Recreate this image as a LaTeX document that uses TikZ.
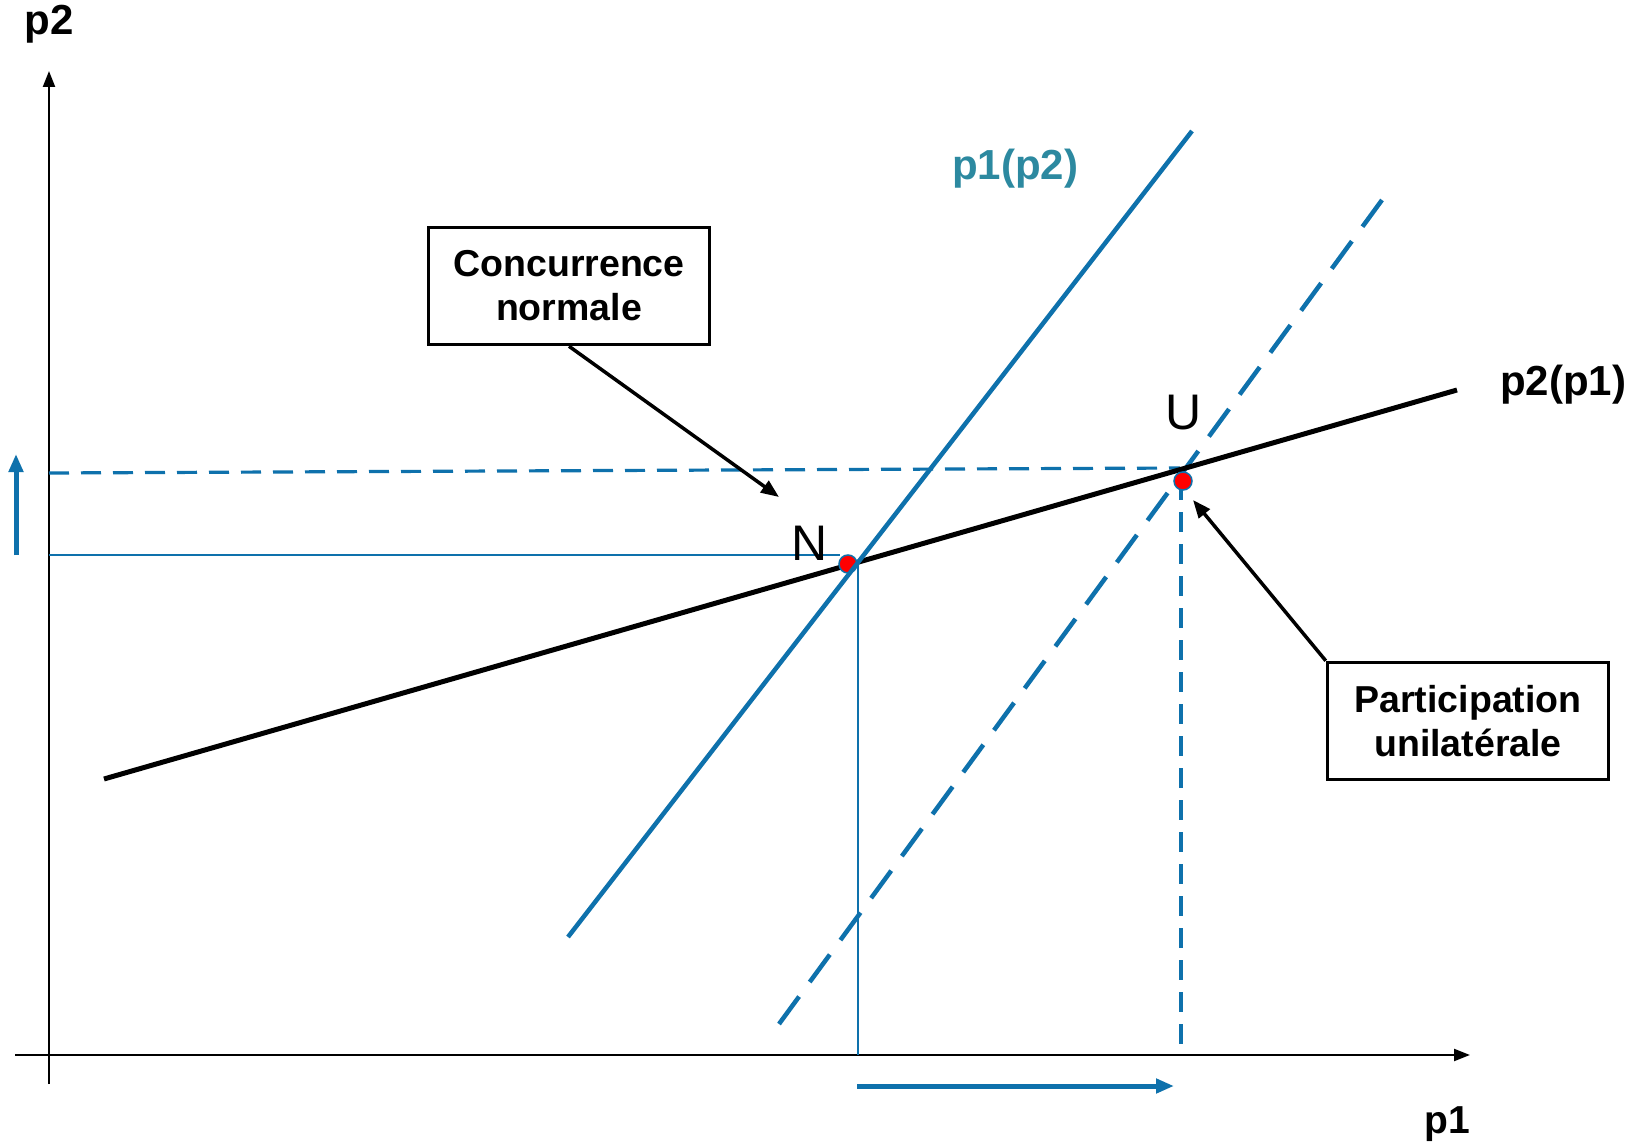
\documentclass[tikz,border=0pt]{standalone}
\usepackage{fontspec}
\setmainfont{Liberation Sans}
\usetikzlibrary{arrows.meta}
\definecolor{lineblue}{HTML}{0E71AC}
\definecolor{tealtxt}{HTML}{2C89A0}
\tikzset{
  axis/.style={line width=2.2pt,-{Triangle[length=16pt,width=12pt]}},
  thinblue/.style={lineblue,line width=2.2pt},
  thickblue/.style={lineblue,line width=4.5pt},
  dashblue/.style={lineblue,line width=3.2pt,dash pattern=on 20pt off 12pt},
  bigdash/.style={lineblue,line width=4.5pt,dash pattern=on 34pt off 18pt},
  blackline/.style={black,line width=5pt},
  labelbox/.style={draw=black,line width=3.5pt,fill=white,align=center,font=\fontsize{37.5}{44}\selectfont\bfseries,inner sep=0pt,minimum width=281pt,minimum height=117pt},
  callout/.style={black,line width=3.5pt,-{Triangle[length=18pt,width=14pt]}},
  shiftarrow/.style={lineblue,line width=5pt,-{Triangle[length=18pt,width=14pt]}},
  eqdot/.style={circle,fill=red,draw=lineblue,line width=1.5pt,minimum size=18pt,inner sep=0pt},
  axlabel/.style={font=\fontsize{42}{50}\selectfont\bfseries},
  ptlabel/.style={font=\fontsize{50}{60}\selectfont},
}
\begin{document}
\begin{tikzpicture}[x=1pt,y=-1pt]
\useasboundingbox (0,0) rectangle (1647,1147);
\fill[white] (0,0) rectangle (1647,1147);

% axes
\coordinate (yb) at (49,1084);
\coordinate (yt) at (49,71);
\coordinate (xl) at (15,1055);
\coordinate (xr) at (1470,1055);
\draw[axis] (yb) -- (yt);
\draw[axis] (xl) -- (xr);
\node[axlabel] (p2lab) at (49,24) {p2};
\node[font=\fontsize{39}{46}\selectfont\bfseries] (p1lab) at (1447,1124) {p1};

% key points
\coordinate (Nx) at (858,562);
\coordinate (Ux) at (1185,468);

% thin projection lines from N
\coordinate (NyAx) at (49,555);
\coordinate (NyEnd) at (840,555);
\coordinate (NxAx) at (858,1055);
\draw[thinblue] (NyAx) -- (NyEnd);
\draw[thinblue] (Nx) -- (NxAx);

% dashed projection lines from U
\coordinate (UyAx) at (49,473);
\coordinate (UyEnd) at (1180,468);
\coordinate (UxTop) at (1181,480);
\coordinate (UxAx) at (1181,1048);
\draw[dashblue] (UyAx) -- (UyEnd);
\draw[dashblue] (UxTop) -- (UxAx);

% reaction curves
\coordinate (bA) at (104,779);
\coordinate (bB) at (1457,390);
\coordinate (sA) at (568,937);
\coordinate (sB) at (1192,131);
\coordinate (dA) at (779,1024);
\coordinate (dB) at (1382,200);
\draw[bigdash] (dA) -- (dB);
\draw[blackline] (bA) -- (bB);

% equilibrium dots
\node[eqdot] (Ndot) at (848,564) {};
\node[eqdot] (Udot) at (1183,481) {};
\draw[thickblue] (sA) -- (sB);

\node[font=\fontsize{42}{50}\selectfont\bfseries,text=tealtxt] (p1p2) at (1015,169) {p1(p2)};
\node[axlabel] (p2p1) at (1563,385) {p2(p1)};

\node[ptlabel] (Nlab) at (810,543) {N};
\node[ptlabel] (Ulab) at (1184,413) {U};

% boxes and callouts
\node[labelbox] (conc) at (569,286) {Concurrence\\normale};
\node[labelbox] (part) at (1468,721) {Participation\\unilatérale};
\coordinate (concTip) at (779,497);
\coordinate (partTip) at (1193,500);
\draw[callout] (conc.south) -- (concTip);
\draw[callout] (part.north west) -- (partTip);

% shift arrows
\coordinate (vA) at (16,555);
\coordinate (vB) at (16,454);
\coordinate (hA) at (857,1086);
\coordinate (hB) at (1174,1086);
\draw[shiftarrow] (vA) -- (vB);
\draw[shiftarrow] (hA) -- (hB);
\end{tikzpicture}
\end{document}
